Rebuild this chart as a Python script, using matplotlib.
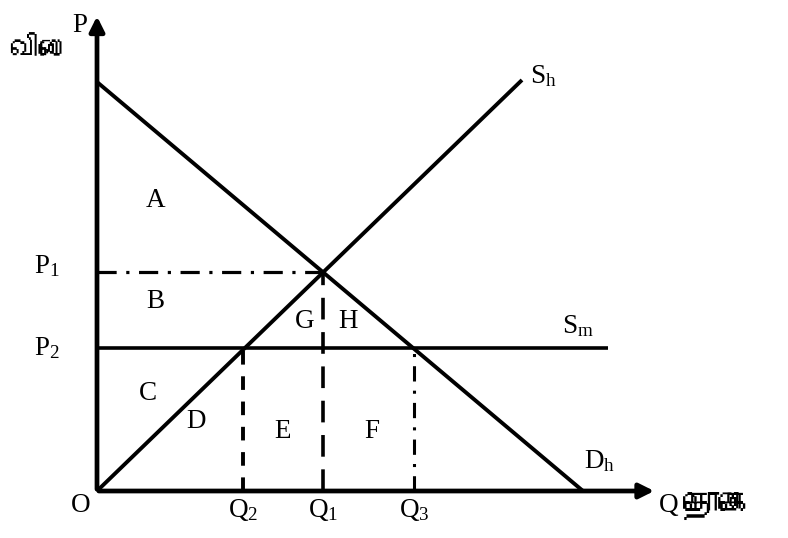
import matplotlib
matplotlib.use("Agg")
import matplotlib.pyplot as plt
from matplotlib import font_manager
from matplotlib.ft2font import FT2Font

# 수요/공급 곡선 데이터 (단위: 그림 기준 임의 단위)
demand_q = [0.0, 9.72]
demand_p = [8.18, 0.0]
supply_q = [0.0, 8.5]
supply_p = [0.0, 8.22]
p1, p2 = 4.38, 2.86
q2, q1, q3 = 2.92, 4.52, 6.34
sm_end = 10.22
x_max, y_max = 11.2, 9.55

area_labels = ["A", "B", "C", "D", "E", "F", "G", "H"]
area_pos = [(1.17, 5.8), (1.17, 3.8), (1.02, 1.95), (1.98, 1.4),
            (3.72, 1.18), (5.5, 1.18), (4.15, 3.38), (5.02, 3.38)]

serif = "Liberation Serif"
plt.rcParams["mathtext.fontset"] = "custom"
plt.rcParams["mathtext.rm"] = serif
plt.rcParams["mathtext.it"] = serif

# 타밀어 글꼴 찾기 (없으면 기본 글꼴)
tamil_font = None
for f in font_manager.fontManager.ttflist:
    try:
        if 0x0BA4 in FT2Font(f.fname).get_charmap():
            tamil_font = f.name
            break
    except Exception:
        pass
tamil_family = [tamil_font, "DejaVu Sans"] if tamil_font else ["DejaVu Sans"]

fig = plt.figure(figsize=(7.88, 5.38), dpi=100)
ax = fig.add_axes([0, 0, 1, 1])
ax.set_xlim(-1.94, 13.82)
ax.set_ylim(-0.94, 9.82)
ax.axis("off")

# 축 (화살표)
ax.annotate("", xy=(0, y_max), xytext=(0, -0.02),
            arrowprops=dict(arrowstyle="-|>", lw=3.4, color="black", mutation_scale=22))
ax.annotate("", xy=(x_max, 0), xytext=(-0.02, 0),
            arrowprops=dict(arrowstyle="-|>", lw=3.4, color="black", mutation_scale=22))

# 곡선
ax.plot(demand_q, demand_p, color="black", lw=2.8, solid_capstyle="butt")
ax.plot(supply_q, supply_p, color="black", lw=2.8, solid_capstyle="butt")
ax.plot([0, sm_end], [p2, p2], color="black", lw=2.6, solid_capstyle="butt")

# 점선
ax.plot([0, q1], [p1, p1], color="black", lw=2.3, dashes=[6, 3, 1, 3])
ax.plot([q1, q1], [0, p1], color="black", lw=2.6, dashes=[6, 3.5])
ax.plot([q2, q2], [0, p2], color="black", lw=2.8, dashes=[3.5, 3])
ax.plot([q3, q3], [0, p2], color="black", lw=2.2, dashes=[5, 3, 1, 3])

fs = 19.5
for lab, (x, y) in zip(area_labels, area_pos):
    ax.text(x, y, lab, family=serif, fontsize=fs, ha="center", va="center")

# 축 라벨
ax.text(-0.34, 9.3, "P", family=serif, fontsize=fs, ha="center", va="center")
ax.text(-1.16, 8.8, "விலை", family=tamil_family, fontsize=22, fontweight="bold",
        ha="center", va="center")
ax.text(-0.32, -0.3, "O", family=serif, fontsize=fs, ha="center", va="center")
ax.text(11.24, -0.28, "Q", family=serif, fontsize=fs, ha="left", va="center")
ax.text(11.72, -0.3, "தொகை", family=tamil_family, fontsize=26, fontweight="bold",
        ha="left", va="center")

sub = [(-1.0, p1 + 0.12, r"P$_{1}$", "center"), (-1.0, p2 - 0.0, r"P$_{2}$", "center"),
       (q2, -0.38, r"Q$_{2}$", "center"), (q1, -0.38, r"Q$_{1}$", "center"),
       (q3, -0.38, r"Q$_{3}$", "center"), (8.65, 8.3, r"S$_{\mathrm{h}}$", "left"),
       (9.3, 3.3, r"S$_{\mathrm{m}}$", "left"), (9.75, 0.6, r"D$_{\mathrm{h}}$", "left")]
for x, y, s, ha in sub:
    ax.text(x, y, s, family=serif, fontsize=fs, ha=ha, va="center")

fig.savefig("out.png", dpi=100)
